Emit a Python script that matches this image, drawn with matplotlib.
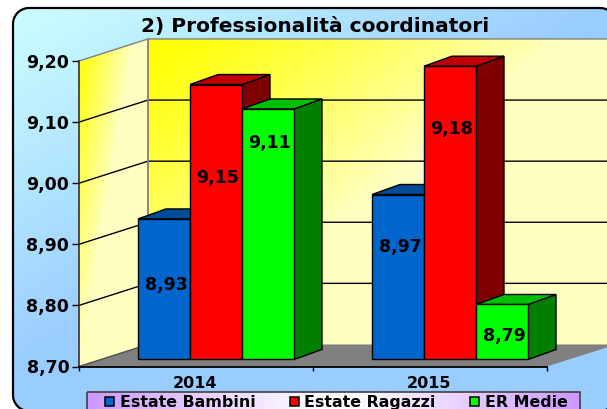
import numpy as np
import matplotlib
matplotlib.use("Agg")
import matplotlib.pyplot as plt
from matplotlib.patches import Polygon, Rectangle

title = "2) Professionalità coordinatori"
years = ["2014", "2015"]
series = ["Estate Bambini", "Estate Ragazzi", "ER Medie"]
values = [[8.93, 9.15, 9.11],
          [8.97, 9.18, 8.79]]
# where the value labels sit
label_y = [[8.834, 9.009, 9.065],
           [8.896, 9.088, 8.750]]
yticks = [8.70, 8.80, 8.90, 9.00, 9.10, 9.20]

front = ["#0066CC", "#FF0000", "#00FF00"]
top = ["#004C99", "#BF0000", "#00BF00"]
side = ["#004C99", "#7F0000", "#007F00"]

W, H = 607, 409
CAT = 234.0  # pixels per category
PY = 610.0   # pixels per unit of score
plt.rcParams["font.family"] = "DejaVu Sans"
plt.rcParams["font.weight"] = "bold"

fig = plt.figure(figsize=(W / 100, H / 100), dpi=100, facecolor="white")

# pixel canvas for the chart furniture
bg = fig.add_axes([0, 0, 1, 1])
bg.axis("off")

# chart area, diagonal blue gradient
xx, yy = np.meshgrid(np.linspace(0, 1, 200), np.linspace(0, 1, 200))
t = np.clip(xx * 1.0 + yy * 1.1, 0, 1)[..., None]
grad = np.array([0.80, 1.0, 1.0]) * (1 - t) + np.array([0.60, 0.80, 1.0]) * t
im = bg.imshow(grad, extent=[13, 616, 412, 8], aspect="auto", zorder=1)

# rounded frame, its bottom edge falls just under the canvas
r = 16
ang = np.linspace(0, np.pi / 2, 20)
x0, x1, y0, y1 = 13, 616, 8, 411
corners = [(x0 + r - r * np.cos(ang), y0 + r - r * np.sin(ang)),
           (x1 - r + r * np.sin(ang), y0 + r - r * np.cos(ang)),
           (x1 - r + r * np.cos(ang), y1 - r + r * np.sin(ang)),
           (x0 + r - r * np.sin(ang), y1 - r + r * np.cos(ang))]
frame_xy = np.column_stack([np.concatenate([c[0] for c in corners]),
                            np.concatenate([c[1] for c in corners])])
box = Polygon(frame_xy, closed=True, fc="none", ec="black", lw=1.6, zorder=2)
bg.add_patch(box)
im.set_clip_path(box)

# value axes: one unit of x is one category, y is the score
ax = fig.add_axes([79 / W, 1 - 366.5 / H, 528 / W, 305.5 / H], facecolor="none")
ax.set_xlim(-0.5, -0.5 + 528 / CAT)
ax.set_ylim(8.70, 9.20)
ax.patch.set_visible(False)
for s in ax.spines.values():
    s.set_visible(False)

wall_dx, wall_dy = 69 / CAT, 22 / PY
bar_dx, bar_dy = 20 / CAT, 7 / PY
depth_dx, depth_dy = 28 / CAT, 10 / PY
xmin = -0.5
xend = 1.5
xright = -0.5 + 560 / CAT

# back wall gradient
u, v = np.meshgrid(np.linspace(0, 1, 300), np.linspace(0, 1, 200))
tw = np.clip(u * 1.1 + v * 0.9, 0, 1)[..., None] ** 1.2
wall = np.array([1, 1, 0.0]) * (1 - tw) + np.array([1, 1, 0.76]) * tw
bg.imshow(wall, extent=[148, 607, 345, 39], aspect="auto", zorder=3)

# side wall gradient
u, v = np.meshgrid(np.linspace(0, 1, 100), np.linspace(0, 1, 200))
ts = np.clip(u * 1.5 + v * 1.2 - 0.2, 0, 1)[..., None]
swall = np.array([1, 1, 0.1]) * (1 - ts) + np.array([1, 1, 0.76]) * ts
side_im = bg.imshow(swall, extent=[79, 148, 367, 39], aspect="auto", zorder=3)
clip = Polygon([(79, 62), (148, 39), (148, 345), (79, 367)], closed=True, fc="none", ec="none")
bg.add_patch(clip)
side_im.set_clip_path(clip)
bg.set_xlim(0, W)
bg.set_ylim(H, 0)

# floor
ax.add_patch(Polygon([(xmin, 8.70), (xmin + wall_dx, 8.70 + wall_dy),
                      (xend + wall_dx, 8.70 + wall_dy), (xend, 8.70)],
                     closed=True, fc="#808080", ec="none", clip_on=False, zorder=1))

# grid on side and back wall
for y in yticks:
    col = "#808080" if y == 9.20 else "black"
    if y == 8.70:
        ax.plot([xmin, xmin + wall_dx], [y, y + wall_dy], color="#505050", lw=1.0, clip_on=False, zorder=2)
        continue
    ax.plot([xmin, xmin + wall_dx, xright], [y, y + wall_dy, y + wall_dy], color=col, lw=1.0,
            clip_on=False, zorder=2, solid_joinstyle="miter")
ax.plot([xmin + wall_dx] * 2, [8.70 + wall_dy, 9.20 + wall_dy], color="#808080", lw=1.3,
        clip_on=False, zorder=2)

# bars, left to right so each one covers the side of the previous one
n = len(series)
w = 52 / CAT
z = 3
for c in range(len(years)):
    for s in range(n):
        bx0 = c - 1.5 * w + s * w + bar_dx
        bx1 = bx0 + w
        b0 = 8.70 + bar_dy
        b1 = values[c][s] + bar_dy
        ax.add_patch(Polygon([(bx1, b0), (bx1 + depth_dx, b0 + depth_dy), (bx1 + depth_dx, b1 + depth_dy), (bx1, b1)],
                             closed=True, fc=side[s], ec="black", lw=1.0, clip_on=False, zorder=z))
        ax.add_patch(Polygon([(bx0, b1), (bx0 + depth_dx, b1 + depth_dy), (bx1 + depth_dx, b1 + depth_dy), (bx1, b1)],
                             closed=True, fc=top[s], ec="black", lw=1.0, clip_on=False, zorder=z))
        ax.bar(bx0, b1 - b0, width=w, bottom=b0, align="edge", color=front[s], edgecolor="black", lw=1.0,
               clip_on=False, zorder=z)
        ax.text(bx0 + w / 2 + 2 / CAT, label_y[c][s], f"{values[c][s]:.2f}".replace(".", ","),
                ha="center", va="center", fontsize=12.5, zorder=50)
        z += 1

# axes lines and ticks on top of the floor
ax.plot([xmin, xmin], [8.70, 9.20], color="#303030", lw=1.2, clip_on=False, zorder=40)
ax.plot([xmin, xend], [8.70, 8.70], color="black", lw=1.3, clip_on=False, zorder=40)
ax.set_yticks(yticks)
ax.set_yticklabels([f"{y:.2f}".replace(".", ",") for y in yticks], fontsize=12.5)
ax.set_xticks([-0.5, 0.5, 1.5])
ax.set_xticklabels([])
ax.tick_params(axis="both", length=5, width=1.0, pad=2)
ax.tick_params(axis="x", length=3)
for i, yr in enumerate(years):
    ax.annotate(yr, (i, 8.70), xytext=(-1, -17), textcoords="offset pixels", ha="center", va="center",
                fontsize=11.5, annotation_clip=False)

# title
bg.text(315, 26.5, title, ha="center", va="center", fontsize=14.5, zorder=60)

# legend
u, v = np.meshgrid(np.linspace(-1, 1, 100), np.linspace(-1, 1, 20))
tl = np.clip(np.abs(u) ** 1.2, 0, 1)[..., None]
lg = np.array([1, 1, 1.0]) * (1 - tl) + np.array([0.80, 0.60, 1.0]) * tl
bg.imshow(lg, extent=[87, 580, 412, 392], aspect="auto", zorder=60)
bg.add_patch(Rectangle((87, 392), 493, 22, fc="none", ec="#404040", lw=1.2, zorder=61))
leg_sq = [105, 290, 470]
leg_tx = [120, 304, 485]
for i, name in enumerate(series):
    bg.add_patch(Rectangle((leg_sq[i], 397), 9, 9, fc=front[i], ec="black", lw=1.1, zorder=62))
    bg.text(leg_tx[i], 402.5, name, ha="left", va="center", fontsize=11.4, zorder=62)
bg.set_xlim(0, W)
bg.set_ylim(H, 0)

fig.savefig("out.png", dpi=100, facecolor="white")
